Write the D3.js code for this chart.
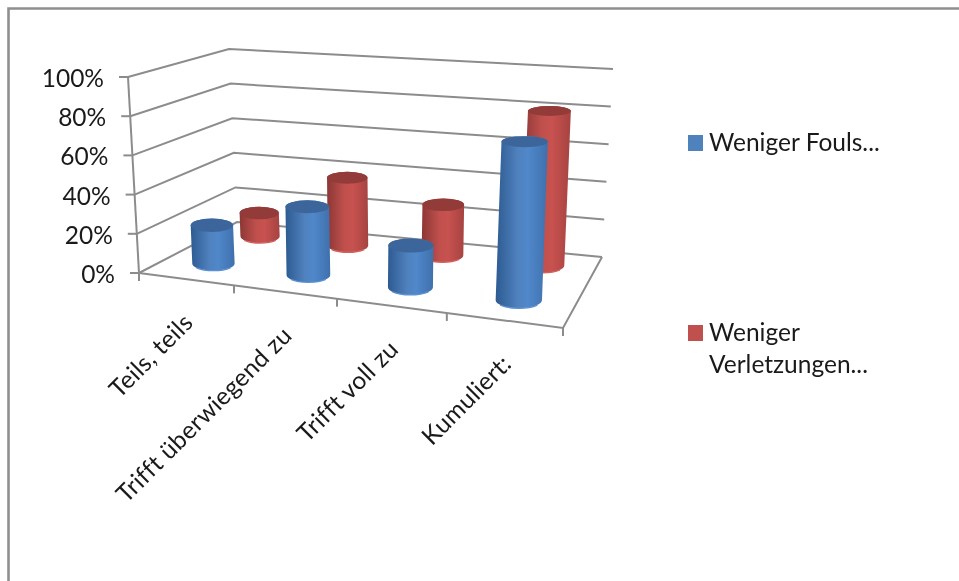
<!DOCTYPE html>
<html>
<head>
<meta charset="utf-8">
<style>
html,body{margin:0;padding:0;background:#fff}
svg{display:block;filter:blur(0.45px)}
text{font-family:Lato,"Open Sans",sans-serif;fill:#1a1a1a}
</style>
</head>
<body>
<svg id="chart" width="959" height="581"></svg>
<script src="https://cdn.jsdelivr.net/npm/d3@7"></script>
<script>
// values
const categories = ["Teils, teils", "Trifft überwiegend zu", "Trifft voll zu", "Kumuliert:"];
const seriesNames = ["Weniger Fouls...", "Weniger Verletzungen..."];
const fouls = [20, 35, 21, 78];
const verletzungen = [13, 37, 27, 81];
const yTicks = [0, 20, 40, 60, 80, 100];

const values = [fouls, verletzungen];
const gridColor = "#8c8c8c";
const fontSize = 24.5;
const colors = [
	{top:"#3c669b", stops:["#2d5a91","#4f81bd","#5088cb","#3f70ac"], rim:"#5c90d2"},
	{top:"#933b39", stops:["#8b3735","#c0504d","#c8524f","#a54341"], rim:"#d0605c"}
];

// corners of the 3d box on screen: front left, front right, back right, back left
const floorQuad = [[139,273],[563,328],[602,257],[237,222]];
const topQuad = [[128,77],[573,115],[613,69],[229,49]];

function bilinear(q){
	return function(u,v){
		let fx = q[0][0]+(q[1][0]-q[0][0])*u, fy = q[0][1]+(q[1][1]-q[0][1])*u;
		let bx = q[3][0]+(q[2][0]-q[3][0])*u, by = q[3][1]+(q[2][1]-q[3][1])*u;
		return [fx+(bx-fx)*v, fy+(by-fy)*v];
	};
}
const floorAt = bilinear(floorQuad);
const topAt = bilinear(topQuad);

const xBand = d3.scaleBand(categories, [0,1]);
const zBand = d3.scaleBand(seriesNames, [0,1]);
const yScale = d3.scaleLinear([0,100], [0,1]);
// the front edge ticks get wider to the right, the box is seen in perspective
const uWarp = d3.scaleLinear([0,0.25,0.5,0.75,1], [0,0.224,0.467,0.726,1]);
const vWarp = d3.scaleLinear([0,1], [0.04,1.06]);

// u along categories, v into the depth, val in percent
function project(u,v,val){
	let a = floorAt(uWarp(u),vWarp(v)), b = topAt(uWarp(u),vWarp(v)), t = yScale(val);
	return [a[0]+(b[0]-a[0])*t, a[1]+(b[1]-a[1])*t];
}

const svg = d3.select("#chart");
const line = d3.line();

// frame
svg.append("path")
	.attr("d","M8.5,581V8.5H959")
	.attr("fill","none").attr("stroke","#8f8f8f").attr("stroke-width",2.6);

// gradients
const defs = svg.append("defs");
colors.forEach(function(c,i){
	let grad = defs.append("linearGradient").attr("id","cyl"+i);
	c.stops.forEach(function(s,j){
		grad.append("stop").attr("offset",[0,0.42,0.62,1][j]).attr("stop-color",s);
	});
});

// grid lines on the two walls, corners are fixed so no vWarp there
function wall(u,v,val){
	let a = floorAt(u,v), b = topAt(u,v), t = yScale(val);
	return [a[0]+(b[0]-a[0])*t, a[1]+(b[1]-a[1])*t];
}
const grid = svg.append("g").attr("fill","none").attr("stroke",gridColor).attr("stroke-width",2);
yTicks.forEach(function(t){
	grid.append("path").attr("d", line([wall(0,0,t),wall(0,1,t),wall(1,1,t)]));
});
// floor edge + vertical axis
grid.append("path").attr("d", line([wall(0,0,0),wall(1,0,0),wall(1,1,0)]));
grid.append("path").attr("d", line([wall(0,0,0),wall(0,0,100)]));

// y ticks and labels
const yAxis = svg.append("g");
yTicks.forEach(function(t){
	let p = wall(0,0,t);
	yAxis.append("line")
		.attr("x1",p[0]-9).attr("x2",p[0]).attr("y1",p[1]).attr("y2",p[1])
		.attr("stroke",gridColor).attr("stroke-width",2);
	yAxis.append("text")
		.attr("x",p[0]-24).attr("y",p[1]+10)
		.attr("text-anchor","end").attr("font-size",fontSize)
		.text(t+"%");
});

// x ticks
[0,1,2,3,4].forEach(function(i){
	let p = wall(uWarp(i/categories.length),0,0);
	svg.append("line")
		.attr("x1",p[0]).attr("x2",p[0]).attr("y1",p[1]).attr("y2",p[1]+8)
		.attr("stroke",gridColor).attr("stroke-width",2);
});

// category labels
categories.forEach(function(c){
	let p = wall(uWarp(xBand(c)+xBand.bandwidth()/2),0,0);
	svg.append("text")
		.attr("transform","translate("+(p[0]+8)+","+(p[1]+45)+") rotate(-45)")
		.attr("text-anchor","end").attr("font-size",fontSize)
		.attr("letter-spacing",0.3)
		.text(c);
});

// cylinders, back series first so the blue ones sit in front
function cylinder(catIdx,serIdx){
	let cat = categories[catIdx], val = values[serIdx][catIdx];
	let u = xBand(cat)+xBand.bandwidth()/2;
	let v = zBand(seriesNames[serIdx])+zBand.bandwidth()/2;
	let b = project(u,v,0), t = project(u,v,val);
	let edge = wall(1,vWarp(v),0)[0]-wall(0,vWarp(v),0)[0];
	let rx = edge*0.054*(0.95+0.12*u);
	let ryB = rx*0.34, ryT = rx*(0.34-0.13*yScale(val));
	let g = svg.append("g");
	let body = "M"+(b[0]-rx)+","+b[1]
		+"A"+rx+","+ryB+" 0 0 0 "+(b[0]+rx)+","+b[1]
		+"L"+(t[0]+rx)+","+t[1]
		+"A"+rx+","+ryT+" 0 0 0 "+(t[0]-rx)+","+t[1]+"Z";
	g.append("path").attr("d",body).attr("fill","url(#cyl"+serIdx+")");
	g.append("path")
		.attr("d","M"+(b[0]-rx*0.8)+","+(b[1]+ryB*0.6)+"A"+rx+","+ryB+" 0 0 0 "+(b[0]+rx*0.8)+","+(b[1]+ryB*0.6))
		.attr("fill","none").attr("stroke",colors[serIdx].rim).attr("stroke-width",1.4);
	g.append("ellipse")
		.attr("cx",t[0]).attr("cy",t[1]).attr("rx",rx).attr("ry",ryT)
		.attr("fill",colors[serIdx].top);
}
[1,0].forEach(function(s){
	categories.forEach(function(c,i){ cylinder(i,s); });
});

// legend
const legendRows = [
	{name:seriesNames[0], lines:["Weniger Fouls..."], y:135},
	{name:seriesNames[1], lines:["Weniger","Verletzungen..."], y:325}
];
legendRows.forEach(function(r,i){
	svg.append("rect")
		.attr("x",688).attr("y",r.y).attr("width",15).attr("height",16)
		.attr("fill",colors[i].stops[1]);
	r.lines.forEach(function(l,j){
		svg.append("text")
			.attr("x",709).attr("y",r.y+16+j*32)
			.attr("font-size",fontSize)
			.text(l);
	});
});
</script>
</body>
</html>
